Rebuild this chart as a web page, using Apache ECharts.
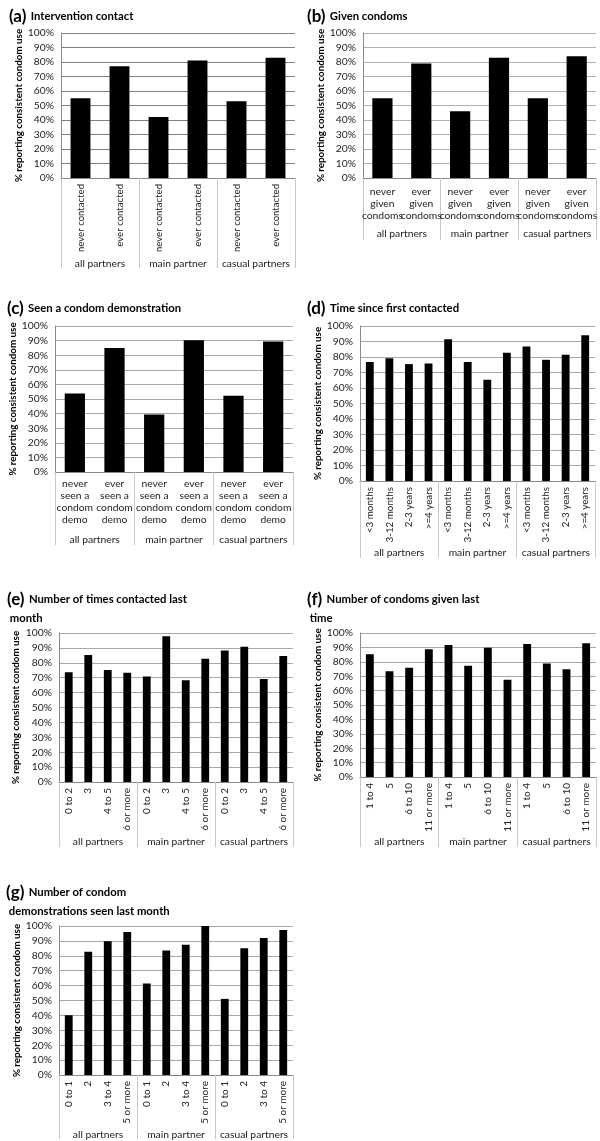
<!DOCTYPE html>
<html>
<head>
<meta charset="utf-8">
<script src="https://cdn.jsdelivr.net/npm/echarts@6/dist/echarts.min.js"></script>
<style>
html,body{margin:0;padding:0;background:#fff;}
#chart{width:600px;height:1141px;}
</style>
</head>
<body>
<div id="chart"></div>
<script>
// ---- data ----
const groups = ['all partners', 'main partner', 'casual partners'];
const yTicks = [0, 10, 20, 30, 40, 50, 60, 70, 80, 90, 100];

const catsA = ['never contacted', 'ever contacted', 'never contacted', 'ever contacted', 'never contacted', 'ever contacted'];
const valsA = [55, 77, 42, 81, 53, 83];

const catsB = ['never\ngiven\ncondoms', 'ever\ngiven\ncondoms', 'never\ngiven\ncondoms', 'ever\ngiven\ncondoms', 'never\ngiven\ncondoms', 'ever\ngiven\ncondoms'];
const valsB = [55, 79, 46, 83, 55, 84];

const catsC = ['never\nseen a\ncondom\ndemo', 'ever\nseen a\ncondom\ndemo', 'never\nseen a\ncondom\ndemo', 'ever\nseen a\ncondom\ndemo', 'never\nseen a\ncondom\ndemo', 'ever\nseen a\ncondom\ndemo'];
const valsC = [53.7, 84.9, 39.3, 90.2, 52.3, 89.3];

const catsD = ['<3 months', '3-12 months', '2-3 years', '>=4 years', '<3 months', '3-12 months', '2-3 years', '>=4 years', '<3 months', '3-12 months', '2-3 years', '>=4 years'];
const valsD = [76.7, 79.2, 75.4, 75.8, 91.4, 76.7, 65.3, 82.7, 86.7, 78.2, 81.4, 94.0];

const catsE = ['0 to 2', '3', '4 to 5', '6 or more', '0 to 2', '3', '4 to 5', '6 or more', '0 to 2', '3', '4 to 5', '6 or more'];
const valsE = [73.7, 85.2, 75.1, 73.3, 70.8, 97.8, 68.3, 82.7, 88.3, 90.8, 69.2, 84.5];

const catsF = ['1 to 4', '5', '6 to 10', '11 or more', '1 to 4', '5', '6 to 10', '11 or more', '1 to 4', '5', '6 to 10', '11 or more'];
const valsF = [85.2, 73.4, 75.9, 88.7, 91.7, 77.3, 89.8, 67.6, 92.4, 78.9, 74.8, 92.8];

const catsG = ['0 to 1', '2', '3 to 4', '5 or more', '0 to 1', '2', '3 to 4', '5 or more', '0 to 1', '2', '3 to 4', '5 or more'];
const valsG = [40.1, 82.7, 89.7, 96.0, 61.4, 83.6, 87.4, 100, 51.1, 85.0, 91.9, 97.3];

const titles = [
  ['(a)', 'Intervention contact'],
  ['(b)', 'Given condoms'],
  ['(c)', 'Seen a condom demonstration'],
  ['(d)', 'Time since first contacted'],
  ['(e)', 'Number of times contacted last', ' month'],
  ['(f)', 'Number of condoms given last', ' time'],
  ['(g)', 'Number of condom', ' demonstrations seen last month']
];
const yName = '% reporting consistent condom use';

// ---- layout ----
const FONT = 'Lato';
const LF = 10.3;
const panels = [
  {cats: catsA, vals: valsA, g: {left: 61, top: 33, width: 234, height: 145}, box: 90, gm: 81, cm: 6, rot: 90, cf: 9.6, bw: '51%', ng: 33, t: {left: 4, top: 2}, gc: '#808080'},
  {cats: catsB, vals: valsB, g: {left: 363, top: 33, width: 235, height: 145}, box: 62, gm: 51, cm: 8, rot: 0, cf: 10.3, bw: '52%', ng: 33, t: {left: 302, top: 2}, gc: '#b0b0b0'},
  {cats: catsC, vals: valsC, g: {left: 55, top: 326, width: 238, height: 146}, box: 73, gm: 63, cm: 6, rot: 0, cf: 10.3, bw: '51%', ng: 35, t: {left: 2, top: 294}, gc: '#a8a8a8'},
  {cats: catsD, vals: valsD, g: {left: 360, top: 326, width: 235, height: 155}, box: 77, gm: 67, cm: 6, rot: 90, cf: 9.8, bw: '40%', ng: 32, t: {left: 302, top: 294}, gc: '#a8a8a8'},
  {cats: catsE, vals: valsE, g: {left: 59, top: 633, width: 234, height: 149}, box: 65, gm: 55, cm: 6, rot: 90, cf: 10, bw: '40%', ng: 38, t: {left: 2, top: 585}, gc: '#a8a8a8'},
  {cats: catsF, vals: valsF, g: {left: 360, top: 633, width: 236, height: 144}, box: 70, gm: 60, cm: 6, rot: 90, cf: 10, bw: '40%', ng: 34, t: {left: 302, top: 585}, gc: '#a8a8a8'},
  {cats: catsG, vals: valsG, g: {left: 59, top: 926, width: 234, height: 149}, box: 64, gm: 55, cm: 6, rot: 90, cf: 10, bw: '40%', ng: 36, t: {left: 1, top: 878}, gc: '#a8a8a8'}
];

const option = {
  animation: false,
  backgroundColor: '#fff',
  textStyle: {fontFamily: FONT},
  title: [], grid: [], xAxis: [], yAxis: [], series: []
};

panels.forEach((p, i) => {
  const tt = titles[i];
  let text = '{p|' + tt[0] + '} {t|' + tt[1] + '}';
  if (tt[2]) text += '\n{t|' + tt[2] + '}';
  option.title.push({
    left: p.t.left, top: p.t.top, text: text,
    textStyle: {
      fontFamily: FONT,
      rich: {
        p: {fontSize: 17, fontWeight: 'bold', color: '#000', fontFamily: FONT, lineHeight: 19},
        t: {fontSize: 11.3, fontWeight: 'bold', color: '#000', fontFamily: FONT, lineHeight: 19}
      }
    }
  });
  option.grid.push(Object.assign({containLabel: false}, p.g));
  option.xAxis.push({
    type: 'category', gridIndex: i, data: p.cats, position: 'bottom',
    axisLine: {show: true, lineStyle: {color: '#8a8a8a', width: 1}},
    axisTick: {show: false},
    axisLabel: {
      interval: 0, rotate: p.rot, margin: p.cm, fontSize: p.cf, color: '#222',
      fontFamily: FONT, lineHeight: 12
    }
  });
  option.xAxis.push({
    type: 'category', gridIndex: i, data: groups, position: 'bottom', offset: 0,
    axisLine: {show: false},
    axisTick: {show: true, length: p.box, lineStyle: {color: '#c8c8c8'}},
    axisLabel: {interval: 0, margin: p.gm, fontSize: LF, color: '#222', fontFamily: FONT},
    splitLine: {show: false}
  });
  option.yAxis.push({
    type: 'value', gridIndex: i, min: yTicks[0], max: yTicks[yTicks.length - 1], interval: yTicks[1] - yTicks[0],
    name: yName, nameLocation: 'middle', nameRotate: 90, nameGap: p.ng,
    nameTextStyle: {fontSize: 9.8, fontWeight: 'bold', color: '#000', fontFamily: FONT},
    axisLine: {show: true, lineStyle: {color: '#8a8a8a'}},
    axisTick: {show: false},
    axisLabel: {formatter: '{value}%', fontSize: LF, color: '#222', margin: 7, fontFamily: FONT},
    splitLine: {show: true, lineStyle: {color: p.gc, width: 1}}
  });
  option.series.push({
    type: 'bar', xAxisIndex: i * 2, yAxisIndex: i, data: p.vals,
    barWidth: p.bw, itemStyle: {color: '#000'}, silent: true
  });
});

const chart = echarts.init(document.getElementById('chart'), null, {renderer: 'canvas'});
chart.setOption(option);
</script>
</body>
</html>
